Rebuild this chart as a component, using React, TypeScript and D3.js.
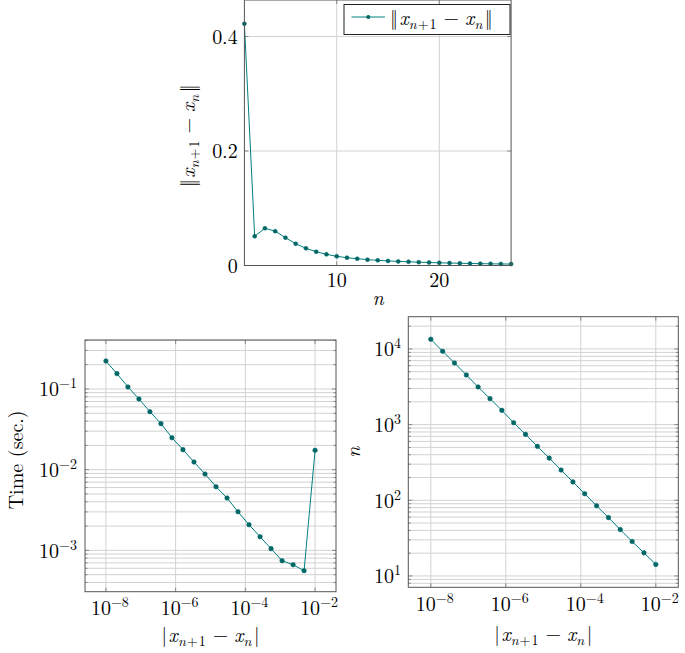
import React from "react";
import * as d3 from "d3";

// ---------- DATA ----------
const iterN: number[] = [1,2,3,4,5,6,7,8,9,10,11,12,13,14,15,16,17,18,19,20,21,22,23,24,25,26,27];
const normDiff: number[] = [0.4224,0.051,0.065,0.060,0.0486,0.038,0.030,0.024,0.0195,0.016,0.0137,0.0119,0.0102,0.0090,0.0080,0.0072,0.0065,0.0058,0.0052,0.0047,0.0043,0.0039,0.0035,0.0032,0.0029,0.0027,0.0025];
const tolerances: number[] = [1e-8,2.07e-8,4.28e-8,8.86e-8,1.83e-7,3.79e-7,7.85e-7,1.62e-6,3.36e-6,6.95e-6,1.44e-5,2.98e-5,6.16e-5,1.27e-4,2.64e-4,5.46e-4,1.13e-3,2.34e-3,4.83e-3,1e-2];
const timeSec: number[] = [0.222,0.155,0.106,0.0752,0.0523,0.0372,0.0249,0.0177,0.01245,0.00883,0.00615,0.00445,0.00301,0.00208,0.001476,0.00105,0.000745,0.000664,0.00056,0.01738];
const iterCount: number[] = [13430,9310,6530,4530,3143,2203,1543,1060,743,516,361,251,175,122,84.5,59,41,28.5,20.2,14.2];
const topXTicks: number[] = [10, 20];
const topYTicks: number[] = [0, 0.2, 0.4];
const logXTicks: number[] = [-8, -6, -4, -2];
const leftYTicks: number[] = [-3, -2, -1];
const rightYTicks: number[] = [1, 2, 3, 4];

const LINE = "#008080";
const MARK = "#006666";
const GRID = "#d2d2d2";
const FRAME = "#555";
const TICK = "#888";
const FONT = "Latin Modern Roman";
const FS = 20;
const SFS = 14;

const It = ({ children, size, dy, dx, ls }: { children: React.ReactNode; size?: number; dy?: number; dx?: number; ls?: number }) => (
  <tspan fontStyle="italic" fontSize={size} dy={dy} dx={dx} letterSpacing={ls}>{children}</tspan>
);

const NormLabel = ({ bars }: { bars: string }) => {
  const pad = bars.length > 1 ? 4.5 : 1.5;
  return (
    <>
      <tspan>{bars}</tspan>
      <It dx={pad}>x</It>
      <It size={SFS} dy={4} ls={1}>n</It>
      <tspan fontSize={SFS} letterSpacing={1}>+1</tspan>
      <tspan dy={-4} dx={6}>−</tspan>
      <It dx={6}>x</It>
      <It size={SFS} dy={4} ls={1}>n</It>
      <tspan dy={-4} dx={pad}>{bars}</tspan>
    </>
  );
};

const Pow = ({ e }: { e: number }) => (
  <>
    <tspan>10</tspan>
    <tspan fontSize={SFS} dy={-8}>{e < 0 ? "−" + Math.abs(e) : String(e)}</tspan>
  </>
);

function minorLogTicks(lo: number, hi: number): number[] {
  const out: number[] = [];
  for (let k = Math.floor(lo) - 1; k <= Math.ceil(hi); k++) {
    for (let m = 2; m <= 9; m++) {
      const v = m * Math.pow(10, k);
      const l = Math.log10(v);
      if (l > lo && l < hi) out.push(v);
    }
  }
  return out;
}

const TopPlot = () => {
  const L = 244.4, R = 511.1, T = 0, B = 265.5;
  const x = d3.scaleLinear().domain([1, 27]).range([L, R]);
  const y = d3.scaleLinear().domain([0, 0.4638]).range([B, T]);
  const line = d3.line<number>().x((_, i) => x(iterN[i])).y((d) => y(d));
  return (
    <g>
      {topXTicks.map((t) => (
        <line key={"gx" + t} x1={x(t)} x2={x(t)} y1={T} y2={B} stroke={GRID} strokeWidth={1} />
      ))}
      {topYTicks.map((t) => (
        <line key={"gy" + t} x1={L} x2={R} y1={y(t)} y2={y(t)} stroke={GRID} strokeWidth={1} />
      ))}
      {topXTicks.map((t) => (
        <g key={"tx" + t}>
          <line x1={x(t)} x2={x(t)} y1={B} y2={B - 4} stroke={TICK} />
          <line x1={x(t)} x2={x(t)} y1={T} y2={T + 4} stroke={TICK} />
          <text x={x(t)} y={B + 21.5} textAnchor="middle" fontSize={FS} fontFamily={FONT}>{t}</text>
        </g>
      ))}
      {topYTicks.map((t) => (
        <g key={"ty" + t}>
          <line x1={L} x2={L + 4} y1={y(t)} y2={y(t)} stroke={TICK} />
          <line x1={R} x2={R - 4} y1={y(t)} y2={y(t)} stroke={TICK} />
          <text x={237.7} y={y(t) + 7} textAnchor="end" fontSize={FS} fontFamily={FONT}>{t}</text>
        </g>
      ))}
      <path d={line(normDiff) || ""} fill="none" stroke={LINE} strokeWidth={1} />
      {normDiff.map((v, i) => (
        <circle key={i} cx={x(iterN[i])} cy={y(v)} r={2} fill={MARK} stroke={MARK} strokeWidth={0.5} />
      ))}
      <rect x={L} y={T} width={R - L} height={B - T} fill="none" stroke={FRAME} strokeWidth={1} />
      {/* legend */}
      <rect x={344} y={4.5} width={166} height={30} fill="#fff" stroke="#222" strokeWidth={1} />
      <line x1={351.5} x2={385} y1={17} y2={17} stroke={LINE} strokeWidth={1} />
      <circle cx={368.3} cy={17} r={2} fill={MARK} />
      <text x={390} y={25} fontSize={FS} fontFamily={FONT}><NormLabel bars="‖" /></text>
      {/* axis labels */}
      <text x={378} y={305} textAnchor="middle" fontSize={FS} fontFamily={FONT} fontStyle="italic">n</text>
      <text transform={`translate(195,${(T + B) / 2 + 3}) rotate(-90)`} textAnchor="middle" fontSize={FS} fontFamily={FONT}>
        <NormLabel bars="‖" />
      </text>
    </g>
  );
};

type LogProps = {
  L: number; R: number; T: number; B: number;
  xd: [number, number]; yd: [number, number];
  ys: number[]; yTicks: number[]; yTickX: number; xTickDy: number;
  yLabel: React.ReactNode; yLabelX: number; yLabelDy: number; xLabelY: number;
};

const LogPlot = (p: LogProps) => {
  const { L, R, T, B } = p;
  const x = d3.scaleLog().domain([Math.pow(10, p.xd[0]), Math.pow(10, p.xd[1])]).range([L, R]);
  const y = d3.scaleLog().domain([Math.pow(10, p.yd[0]), Math.pow(10, p.yd[1])]).range([B, T]);
  const line = d3.line<number>().x((_, i) => x(tolerances[i])).y((d) => y(d));
  const minors = minorLogTicks(p.yd[0], p.yd[1]);
  const majors = p.yTicks.map((e) => Math.pow(10, e));
  return (
    <g>
      {logXTicks.map((e) => (
        <line key={"gx" + e} x1={x(Math.pow(10, e))} x2={x(Math.pow(10, e))} y1={T} y2={B} stroke={GRID} />
      ))}
      {minors.map((v, i) => (
        <line key={"gm" + i} x1={L} x2={R} y1={y(v)} y2={y(v)} stroke={GRID} />
      ))}
      {majors.map((v, i) => (
        <line key={"gM" + i} x1={L} x2={R} y1={y(v)} y2={y(v)} stroke={GRID} />
      ))}
      {minors.map((v, i) => (
        <g key={"tm" + i}>
          <line x1={L} x2={L + 2.5} y1={y(v)} y2={y(v)} stroke={TICK} />
          <line x1={R} x2={R - 2.5} y1={y(v)} y2={y(v)} stroke={TICK} />
        </g>
      ))}
      {p.yTicks.map((e) => (
        <g key={"ty" + e}>
          <line x1={L} x2={L + 4} y1={y(Math.pow(10, e))} y2={y(Math.pow(10, e))} stroke={TICK} />
          <line x1={R} x2={R - 4} y1={y(Math.pow(10, e))} y2={y(Math.pow(10, e))} stroke={TICK} />
          <text x={p.yTickX} y={y(Math.pow(10, e)) + 7.5} textAnchor="end" fontSize={FS} fontFamily={FONT}><Pow e={e} /></text>
        </g>
      ))}
      {logXTicks.map((e) => (
        <g key={"tx" + e}>
          <line x1={x(Math.pow(10, e))} x2={x(Math.pow(10, e))} y1={B} y2={B - 4} stroke={TICK} />
          <line x1={x(Math.pow(10, e))} x2={x(Math.pow(10, e))} y1={T} y2={T + 4} stroke={TICK} />
          <text x={x(Math.pow(10, e)) + 4} y={B + p.xTickDy} textAnchor="middle" fontSize={FS} fontFamily={FONT}><Pow e={e} /></text>
        </g>
      ))}
      <path d={line(p.ys) || ""} fill="none" stroke={LINE} strokeWidth={1} />
      {p.ys.map((v, i) => (
        <circle key={i} cx={x(tolerances[i])} cy={y(v)} r={2.3} fill={MARK} stroke={MARK} strokeWidth={0.5} />
      ))}
      <rect x={L} y={T} width={R - L} height={B - T} fill="none" stroke={FRAME} strokeWidth={1} />
      <text x={(L + R) / 2} y={p.xLabelY} textAnchor="middle" fontSize={FS} fontFamily={FONT}>
        <NormLabel bars="|" />
      </text>
      <text transform={`translate(${p.yLabelX},${(T + B) / 2 + p.yLabelDy}) rotate(-90)`} textAnchor="middle" fontSize={FS} fontFamily={FONT}>
        {p.yLabel}
      </text>
    </g>
  );
};

export default function App() {
  return (
    <svg width={685} height={653} style={{ position: "absolute", left: 0, top: 0, background: "#fff", opacity: 0.999 }}>
      <rect x={0} y={0} width={685} height={653} fill="#fff" />
      <TopPlot />
      <LogPlot
        L={85} R={336} T={340} B={591.7}
        xd={[-8.6, -1.4]} yd={[-3.512, -0.393]}
        ys={timeSec} yTicks={leftYTicks} yTickX={77} xTickDy={23.5}
        yLabel={<tspan>Time (sec.)</tspan>} yLabelX={23} yLabelDy={-6} xLabelY={642}
      />
      <LogPlot
        L={408.3} R={678.3} T={316.7} B={587.3}
        xd={[-8.6, -1.4]} yd={[0.85, 4.426]}
        ys={iterCount} yTicks={rightYTicks} yTickX={401} xTickDy={24}
        yLabel={<tspan fontStyle="italic">n</tspan>} yLabelX={360} yLabelDy={0} xLabelY={641}
      />
    </svg>
  );
}
